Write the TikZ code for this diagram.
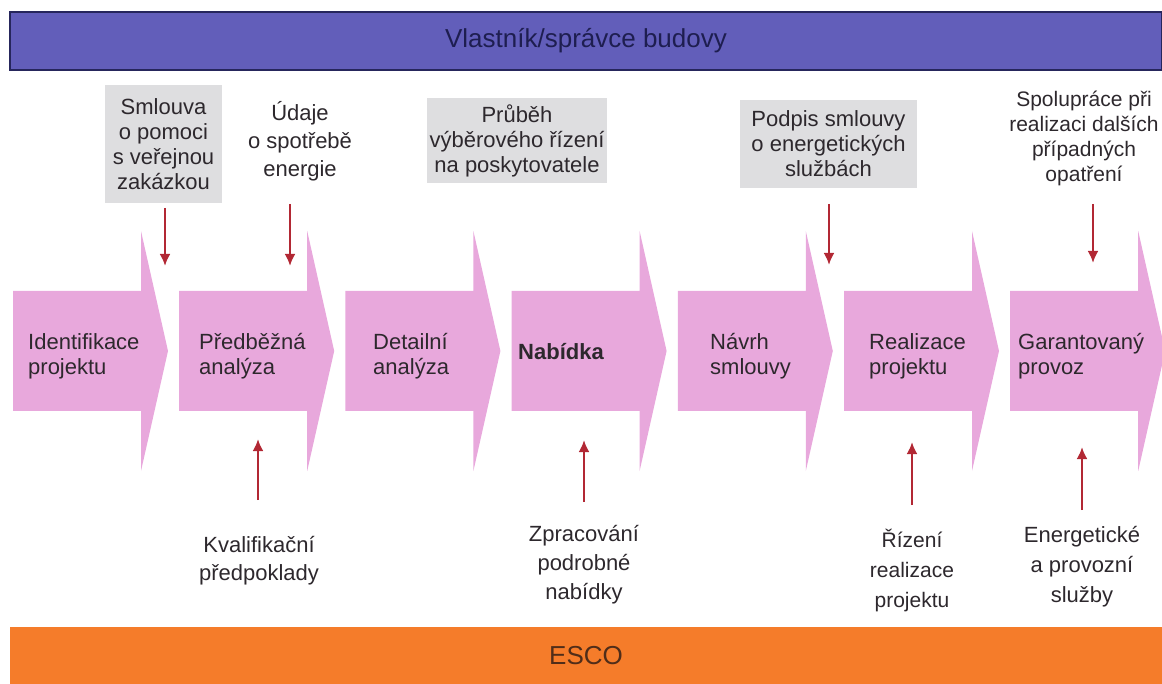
\documentclass[tikz,border=0pt]{standalone}
\usepackage{fontspec}
\setmainfont{Liberation Sans}
\usetikzlibrary{arrows.meta}
\definecolor{pinkarr}{RGB}{232,168,220}
\definecolor{greybox}{RGB}{222,222,224}
\definecolor{bandblue}{RGB}{98,94,186}
\definecolor{bandline}{RGB}{38,38,92}
\definecolor{bandtext}{RGB}{30,30,80}
\definecolor{bandorange}{RGB}{245,124,42}
\definecolor{escotext}{RGB}{80,45,25}
\definecolor{redarrow}{RGB}{178,40,52}
\definecolor{txt}{RGB}{45,40,45}
\begin{document}
\begin{tikzpicture}[x=1pt,y=-1pt,
  chevron/.style={fill=pinkarr},
  steptext/.style={anchor=west, align=left, text=txt, inner sep=0pt,
    font=\fontsize{22}{25}\selectfont},
  labeltext/.style={align=center, text=txt, inner sep=0pt,
    font=\fontsize{22}{25}\selectfont},
  greyboxn/.style={labeltext, fill=greybox},
  bandnode/.style={minimum width=1152pt, minimum height=58pt, inner sep=0pt,
    font=\fontsize{26}{30}\selectfont},
  redarr/.style={draw=redarrow, line width=2.6pt, -{Latex[length=12pt,width=11pt]}},
]
\useasboundingbox (0,0) rectangle (1162,684);

% bands
\node[bandnode, fill=bandblue, draw=bandline, line width=2.5pt, text=bandtext] (owner) at (586,41) {Vlastník/správce budovy};
\node[bandnode, fill=bandorange, text=escotext] (esco) at (586,656) {ESCO};

% chevrons
\foreach \L in {13,179.2,345.4,511.6,677.8,844,1010.2}{
  \fill[chevron] (\L,291) -- ++(128,0) -- ++(0,-60) -- ++(27,120) -- ++(-27,120) -- ++(0,-60) -- ++(-128,0) -- cycle;
}

% step texts
\node[steptext] (a1) at (28,356) {Identifikace\\projektu};
\node[steptext] (a2) at (199,356) {Předběžná\\analýza};
\node[steptext] (a3) at (373,356) {Detailní\\analýza};
\node[steptext, font=\fontsize{22}{25}\selectfont\bfseries] (a4) at (518,352) {Nabídka};
\node[steptext] (a5) at (710,356) {Návrh\\smlouvy};
\node[steptext] (a6) at (869,356) {Realizace\\projektu};
\node[steptext] (a7) at (1018,356) {Garantovaný\\provoz};

% top labels
\node[greyboxn, minimum width=117pt, minimum height=118pt] (t1) at (163.5,144) {Smlouva\\o pomoci\\s veřejnou\\zakázkou};
\node[labeltext, font=\fontsize{22}{28}\selectfont] (t2) at (300,141) {Údaje\\o spotřebě\\energie};
\node[greyboxn, minimum width=180pt, minimum height=85pt] (t3) at (517,140.5) {Průběh\\výběrového řízení\\na poskytovatele};
\node[greyboxn, minimum width=177pt, minimum height=88pt] (t4) at (828.5,144) {Podpis smlouvy\\o energetických\\službách};
\node[labeltext, font=\fontsize{21}{25}\selectfont] (t5) at (1084,138) {Spolupráce při\\realizaci dalších\\případných\\opatření};

% bottom labels
\node[labeltext, font=\fontsize{22}{28}\selectfont] (b1) at (259,561) {Kvalifikační\\předpoklady};
\node[labeltext, font=\fontsize{22}{29}\selectfont] (b2) at (584,565) {Zpracování\\podrobné\\nabídky};
\node[labeltext, font=\fontsize{21}{30}\selectfont] (b3) at (912,570) {Řízení\\realizace\\projektu};
\node[labeltext, font=\fontsize{22}{30}\selectfont] (b4) at (1082,567) {Energetické\\a provozní\\služby};

% arrow end points
\coordinate (d1s) at (165,208); \coordinate (d1e) at (165,266);
\coordinate (d2s) at (290,204); \coordinate (d2e) at (290,266);
\coordinate (d3s) at (829,204); \coordinate (d3e) at (829,265);
\coordinate (d4s) at (1093,204); \coordinate (d4e) at (1093,263);
\coordinate (u1s) at (258,500); \coordinate (u1e) at (258,439);
\coordinate (u2s) at (584,502); \coordinate (u2e) at (584,440);
\coordinate (u3s) at (912,505); \coordinate (u3e) at (912,442);
\coordinate (u4s) at (1082,510); \coordinate (u4e) at (1082,447);

\draw[redarr] (d1s) -- (d1e);
\draw[redarr] (d2s) -- (d2e);
\draw[redarr] (d3s) -- (d3e);
\draw[redarr] (d4s) -- (d4e);
\draw[redarr] (u1s) -- (u1e);
\draw[redarr] (u2s) -- (u2e);
\draw[redarr] (u3s) -- (u3e);
\draw[redarr] (u4s) -- (u4e);
\end{tikzpicture}
\end{document}
